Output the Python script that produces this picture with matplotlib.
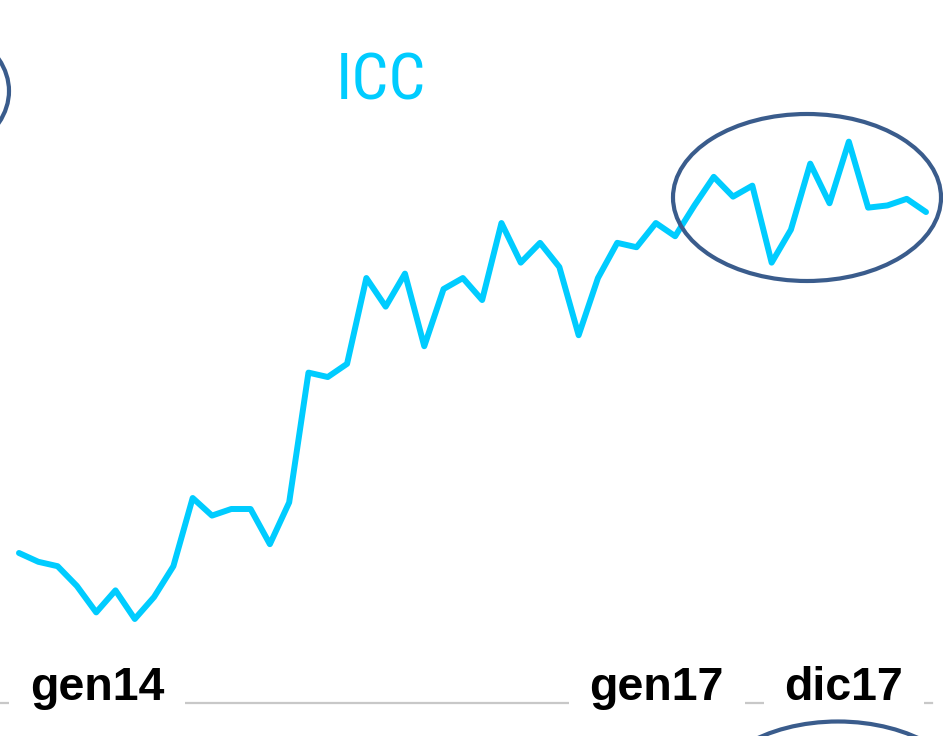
import matplotlib
matplotlib.use("Agg")
import matplotlib.pyplot as plt
from matplotlib.patches import Ellipse
from matplotlib import font_manager

# ICC monthly index, gen14 .. dic17
months = list(range(48))
icc = [100.0, 99.6, 99.4, 98.5, 97.3, 98.3, 97.0, 98.0, 99.4, 102.5,
       101.7, 102.0, 102.0, 100.4, 102.3, 108.2, 108.0, 108.6, 112.5, 111.2,
       112.7, 109.4, 112.0, 112.5, 111.5, 115.0, 113.2, 114.1, 113.0, 109.9,
       112.5, 114.1, 113.9, 115.0, 114.4, 115.8, 117.1, 116.2, 116.7, 113.2,
       114.7, 117.7, 115.9, 118.7, 115.7, 115.8, 116.1, 115.5]
tick_labels = ["gen14", "gen17", "dic17"]
tick_pos = [4.05, 33.05, 42.75]

W, H = 943, 736
fig = plt.figure(figsize=(W / 100, H / 100), dpi=100)
ax = fig.add_axes([0, 0, 1, 1])
ax.set_xlim(-0.984, 47.88)
ax.set_ylim(91.68, 125.14)
ax.axis("off")

ax.plot(months, icc, color="#00CCFF", lw=4.3, solid_capstyle="round", zorder=3)

# x axis line with labels sitting on white boxes
ax.axhline(93.18, xmin=0, xmax=932 / W, color="#C8C8C8", lw=1.6, zorder=1)
for lab, p in zip(tick_labels, tick_pos):
    ax.text(p, 93.32, lab, ha="center", va="baseline", fontsize=33.5,
            fontweight="bold", family="Liberation Sans", color="black",
            bbox=dict(boxstyle="square,pad=0.45", fc="white", ec="none"),
            zorder=2)

# title, narrow face if one is around
names = {f.name for f in font_manager.fontManager.ttflist}
narrow = [n for n in ("Liberation Sans Narrow", "DejaVu Sans Condensed", "Roboto Condensed")
          if n in names]
fig.text(381 / W, 1 - 99 / H, "ICC", ha="center", va="baseline",
         fontsize=47 if narrow else 44, color="#00CCFF",
         family=narrow + ["DejaVu Sans"], fontstretch="condensed")


def px_ellipse(cx, cy, w, h):
    e = Ellipse((cx / W, 1 - cy / H), w / W, h / H, transform=fig.transFigure,
                fill=False, ec="#3A5C8C", lw=3.0, zorder=4)
    fig.add_artist(e)


px_ellipse(807, 197.5, 268, 167)
px_ellipse(-125, 91, 268, 167)
px_ellipse(838, 805, 268, 167)

fig.savefig("out.png", dpi=100)
